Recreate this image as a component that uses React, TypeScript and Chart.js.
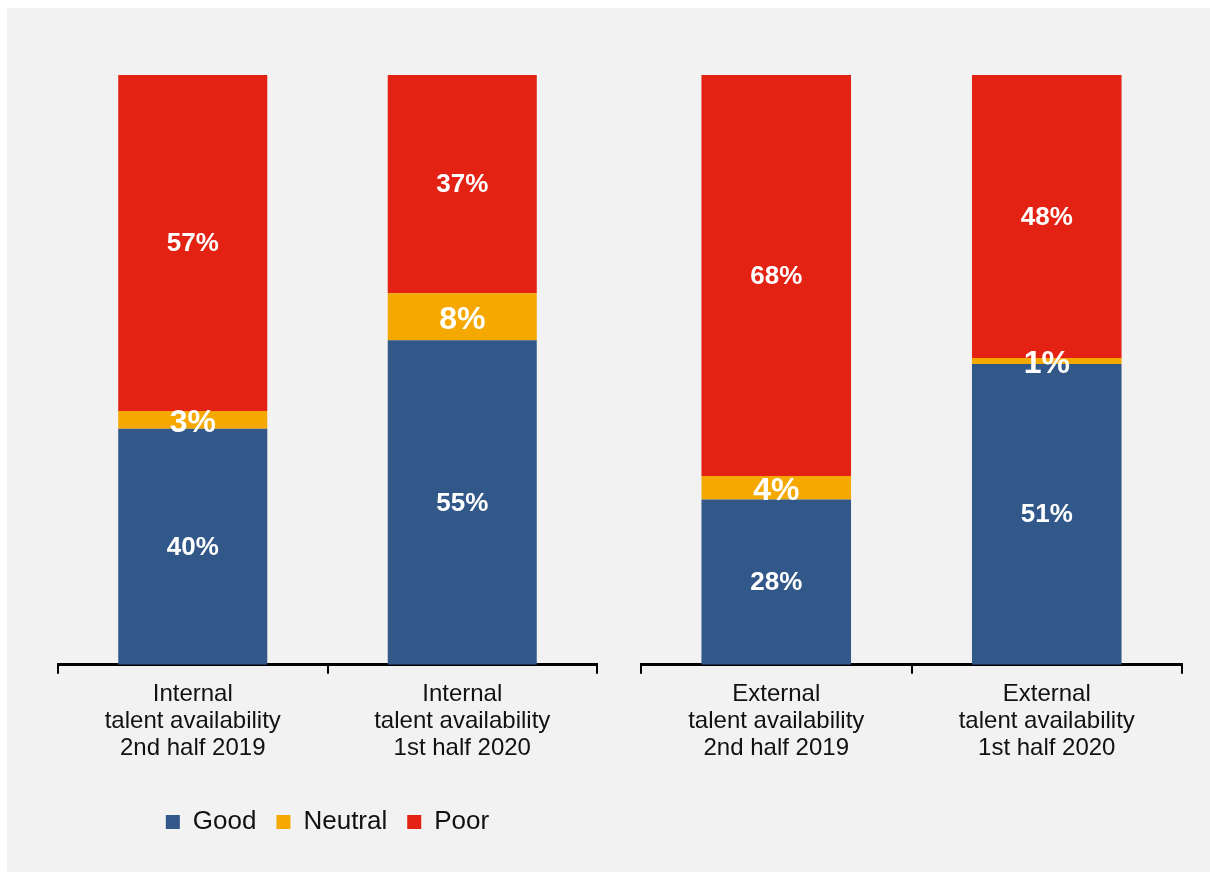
import React, { useEffect, useRef } from "react";
import { Chart, registerables } from "chart.js";

Chart.register(...registerables);

const categoriesInternal = [
  ["Internal", "talent availability", "2nd half 2019"],
  ["Internal", "talent availability", "1st half 2020"],
];
const categoriesExternal = [
  ["External", "talent availability", "2nd half 2019"],
  ["External", "talent availability", "1st half 2020"],
];
const seriesNames = ["Good", "Neutral", "Poor"];
const goodInternal = [40, 55];
const neutralInternal = [3, 8];
const poorInternal = [57, 37];
const goodExternal = [28, 51];
const neutralExternal = [4, 1];
const poorExternal = [68, 48];

const COLORS = ["#325889", "#f5a800", "#e32214"];
const FONT = "'Liberation Sans', Arial, sans-serif";

const labelPlugin = {
  id: "segLabels",
  afterDatasetsDraw(chart: any) {
    const ctx = chart.ctx;
    chart.data.datasets.forEach((ds: any, di: number) => {
      const meta = chart.getDatasetMeta(di);
      meta.data.forEach((el: any, i: number) => {
        const v = ds.data[i];
        const size = di === 1 ? 32 : 26;
        ctx.save();
        ctx.font = `bold ${size}px ${FONT}`;
        ctx.fillStyle = "#ffffff";
        ctx.textAlign = "center";
        ctx.textBaseline = "middle";
        ctx.fillText(`${v}%`, el.x, (el.y + el.base) / 2 + (di === 1 ? 3 : 1));
        ctx.restore();
      });
    });
  },
};

function makeConfig(
  labels: string[][],
  good: number[],
  neutral: number[],
  poor: number[],
  showLegend: boolean,
  padding: any
): any {
  const values = [good, neutral, poor];
  return {
    type: "bar",
    data: {
      labels,
      datasets: seriesNames.map((name, i) => ({
        label: name,
        data: values[i],
        backgroundColor: COLORS[i],
        borderWidth: 0,
        categoryPercentage: 1,
        barPercentage: 0.553,
      })),
    },
    options: {
      animation: false,
      responsive: false,
      maintainAspectRatio: false,
      layout: { padding },
      scales: {
        x: {
          stacked: true,
          afterFit(scale: any) {
            scale.height += 20;
          },
          grid: {
            display: true,
            drawOnChartArea: false,
            drawTicks: true,
            tickLength: 9,
            color: "#000",
            lineWidth: 2,
            offset: true,
          },
          border: { display: true, color: "#000", width: 3 },
          ticks: {
            color: "#111",
            font: { family: FONT, size: 24, lineHeight: 1.13 },
            padding: 7,
            maxRotation: 0,
            autoSkip: false,
          },
        },
        y: {
          stacked: true,
          display: false,
          min: 0,
          max: 100,
        },
      },
      plugins: {
        legend: {
          display: showLegend,
          position: "bottom",
          labels: {
            boxWidth: 14,
            boxHeight: 14,
            color: "#111",
            padding: 20,
            font: { family: FONT, size: 26 },
          },
        },
        tooltip: { enabled: false },
      },
    },
    plugins: [labelPlugin],
  };
}

export default function App() {
  const leftRef = useRef<HTMLCanvasElement>(null);
  const rightRef = useRef<HTMLCanvasElement>(null);

  useEffect(() => {
    const left = new Chart(
      leftRef.current as HTMLCanvasElement,
      makeConfig(categoriesInternal, goodInternal, neutralInternal, poorInternal, true, {
        left: 51,
        right: 20,
        top: 67,
        bottom: 27,
      })
    );
    const right = new Chart(
      rightRef.current as HTMLCanvasElement,
      makeConfig(categoriesExternal, goodExternal, neutralExternal, poorExternal, false, {
        left: 24,
        right: 28,
        top: 67,
        bottom: 83,
      })
    );
    return () => {
      left.destroy();
      right.destroy();
    };
  }, []);

  return (
    <div
      style={{
        position: "absolute",
        left: 7,
        top: 8,
        width: 1203,
        height: 864,
        background: "#f2f2f2",
        overflow: "hidden",
      }}
    >
      <canvas
        ref={leftRef}
        width={610}
        height={864}
        style={{ position: "absolute", left: 0, top: 0, width: 610, height: 864 }}
      />
      <canvas
        ref={rightRef}
        width={593}
        height={864}
        style={{ position: "absolute", left: 610, top: 0, width: 593, height: 864 }}
      />
    </div>
  );
}
